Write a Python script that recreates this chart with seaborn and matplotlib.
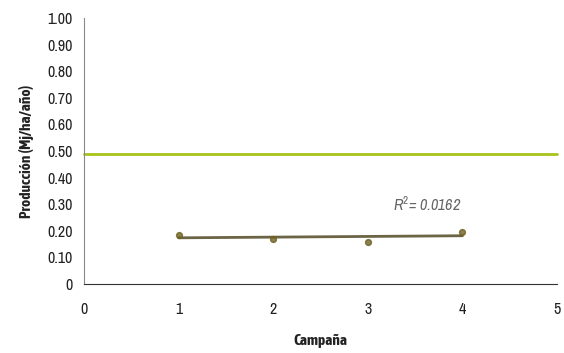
import matplotlib
matplotlib.use("Agg")
import matplotlib.pyplot as plt
import seaborn as sns
import pandas as pd
import numpy as np
from matplotlib import font_manager

campana = [1, 2, 3, 4]
produccion = [0.185, 0.169, 0.159, 0.197]
referencia = 0.487
r2_label = "R$^2$= 0.0162"
y_ticks = [0, 0.1, 0.2, 0.3, 0.4, 0.5, 0.6, 0.7, 0.8, 0.9, 1.0]
y_tick_labels = ["0", "0.10", "0.20", "0.30", "0.40", "0.50", "0.60", "0.70", "0.80", "0.90", "1.00"]
x_ticks = [0, 1, 2, 3, 4, 5]

sns.set_style("white")
entries = font_manager.fontManager.ttflist
names = sorted({f.name for f in entries})
cond = [n for n in names if ("Condensed" in n or "Narrow" in n)]
def has_bold(n):
    return any(f.name == n and (f.weight in ("bold", 700) or (isinstance(f.weight, int) and f.weight >= 600)) for f in entries)
cond_bold = [n for n in cond if has_bold(n)]
fam = cond[0] if cond else "Liberation Sans"
fam_bold = cond_bold[0] if cond_bold else fam
plt.rcParams["font.family"] = [fam, "DejaVu Sans"]
plt.rcParams["mathtext.fontset"] = "custom"
plt.rcParams["mathtext.it"] = fam + ":italic"
plt.rcParams["mathtext.rm"] = fam

df = pd.DataFrame({"Campaña": campana, "Producción": produccion})

fig = plt.figure(figsize=(5.64, 3.53), dpi=100)
ax = fig.add_axes([84/564, 1 - 284/353, (557-84)/564, (284-18)/353])

ax.axhline(referencia, color="#a8c41c", lw=2, zorder=1, clip_on=False)
sns.regplot(data=df, x="Campaña", y="Producción", ax=ax, ci=None, truncate=True,
            scatter_kws=dict(s=18, color="#6e6122", zorder=3),
            line_kws=dict(color="#6b6545", lw=2, zorder=2))

ax.set_xlim(0, 5)
ax.set_ylim(0, 1.0)
ax.set_yticks(y_ticks)
ax.set_yticklabels(y_tick_labels)
ax.set_xticks(x_ticks)
ax.tick_params(axis="y", direction="out", length=3, width=0.8, color="#888888", labelsize=11.5, pad=5, labelcolor="#222222")
ax.tick_params(axis="x", direction="in", length=3, width=0.8, color="#333333", labelsize=11.5, pad=13, labelcolor="#222222")
for s in ["top", "right"]:
    ax.spines[s].set_visible(False)
ax.spines["left"].set_color("#888888")
ax.spines["left"].set_linewidth(0.8)
ax.spines["bottom"].set_color("#333333")
ax.spines["bottom"].set_linewidth(0.8)
ax.set_xlabel("Campaña", fontweight="bold", fontsize=11, labelpad=12, color="#222222", family=[fam_bold, "DejaVu Sans"])
ax.set_ylabel("Producción (Mj/ha/año)", fontweight="bold", fontsize=11, labelpad=10, color="#222222", family=[fam_bold, "DejaVu Sans"])
ax.text(3.27, 0.30, r2_label, style="italic", fontsize=11.5, color="#666666", va="center")

fig.savefig("out.png", dpi=100)
